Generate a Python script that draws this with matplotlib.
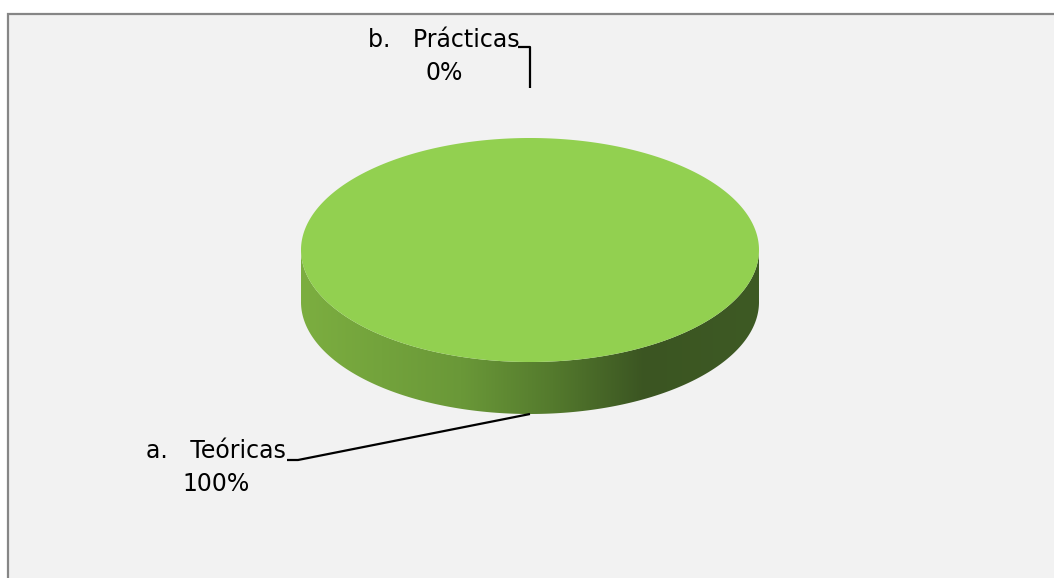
import numpy as np
import matplotlib.pyplot as plt
from matplotlib.patches import Polygon, Rectangle

# chart data
categories = ['a.   Teóricas', 'b.   Prácticas']
percentages = [100, 0]

# layout (pixel coordinates, y grows downward)
W, H = 1054, 578
cx, cy = 530, 250          # centre of the top face
rx, ry = 229, 112          # radii of the top face
depth = 52                 # thickness of the disc
top_color = '#92d050'
side_stops = [(0.00, (124, 174, 64)), (0.35, (106, 152, 56)), (0.55, (84, 122, 45)),
              (0.75, (59, 85, 34)), (1.00, (62, 90, 36))]

# label placement: centre x, baseline of the last line, leader path back to the slice
label_pos = {
    'a.   Teóricas': dict(x=216, y=491, elbow=[(287, 460), (298, 460)], gap=0),
    'b.   Prácticas': dict(x=444, y=80, elbow=[(518, 47), (530, 47)], gap=50),
}

fig = plt.figure(figsize=(W / 100, H / 100), dpi=100)
fig.patch.set_facecolor('white')
ax = fig.add_axes([0, 0, 1, 1])
ax.set_axis_off()

# chart area background with border
ax.add_patch(Rectangle((7.5, 13.5), W + 20, H + 20, facecolor='#f2f2f2',
                       edgecolor='#868686', linewidth=1.6, zorder=0))


def ell(theta, dy=0.0):
    return cx + rx * np.cos(theta), cy - ry * np.sin(theta) + dy


def side_cmap(n):
    pos = np.array([s[0] for s in side_stops])
    cols = np.array([s[1] for s in side_stops]) / 255.0
    t = np.linspace(0, 1, n)
    return np.stack([np.interp(t, pos, cols[:, k]) for k in range(3)], axis=-1)


grad = side_cmap(400)[np.newaxis, :, :]

# slices go clockwise from 12 o'clock
total = float(sum(percentages))
start = np.pi / 2
anchors = {}
for cat, val in zip(categories, percentages):
    sweep = 2 * np.pi * val / total
    a0, a1 = start, start - sweep
    mid = (a0 + a1) / 2
    if sweep > 0:
        # visible front wall: angles between pi and 2*pi
        th = np.linspace(a1, a0, 720)
        th_n = np.mod(th, 2 * np.pi)
        front = th[(th_n >= np.pi) & (th_n <= 2 * np.pi)]
        if front.size:
            front = np.sort(np.mod(front, 2 * np.pi))
            xt, yt = ell(front)
            xb, yb = ell(front[::-1], depth)
            wall = Polygon(np.column_stack([np.r_[xt, xb], np.r_[yt, yb]]),
                           closed=True, facecolor='none', edgecolor='none')
            ax.add_patch(wall)
            im = ax.imshow(grad, extent=(cx - rx, cx + rx, cy + ry + depth, cy - ry),
                           aspect='auto', interpolation='bilinear', zorder=1)
            im.set_clip_path(wall)
        # top face
        th = np.linspace(a0, a1, 720)
        xs, ys = ell(th)
        if sweep < 2 * np.pi:
            xs, ys = np.r_[cx, xs], np.r_[cy, ys]
        ax.add_patch(Polygon(np.column_stack([xs, ys]), closed=True,
                             facecolor=top_color, edgecolor='none', zorder=2))
    # point where the leader line meets the slice
    mx, my = ell(mid)
    if np.sin(mid) < 0:
        my += depth
    anchors[cat] = (mx, my, mid)
    start = a1

for cat, val in zip(categories, percentages):
    p = label_pos[cat]
    mx, my, mid = anchors[cat]
    if np.sin(mid) >= 0:
        my -= p['gap']
    pts = p['elbow'] + [(mx, my)]
    ax.plot([q[0] for q in pts], [q[1] for q in pts], color='black', lw=1.6,
            solid_capstyle='butt', zorder=3)
    ax.text(p['x'], p['y'], f'{cat}\n{val:.0f}%', ha='center', va='baseline',
            multialignment='center', fontsize=17, linespacing=1.45,
            family=['Liberation Sans Narrow', 'DejaVu Sans'], color='black', zorder=4)

ax.set_xlim(0, W)
ax.set_ylim(H, 0)
fig.savefig('out.png', dpi=100, facecolor=fig.get_facecolor())
